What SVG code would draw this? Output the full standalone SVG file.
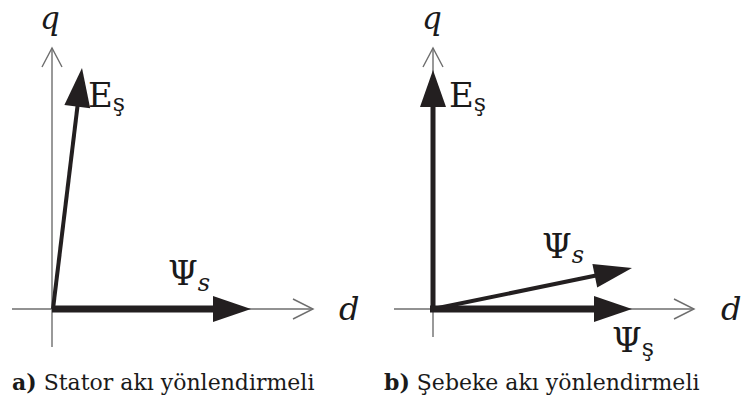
<svg xmlns="http://www.w3.org/2000/svg" width="744" height="403" viewBox="0 0 744 403">
<style>
.axis{stroke:#6e6e6e;stroke-width:1.4;fill:none}
.vec{stroke:#231f20;fill:none}
.head{fill:#231f20;stroke:none}
.t{font-family:'DejaVu Serif',serif;fill:#1a1a1a}
.it{font-style:italic}
.ax{font-size:32px}
.axq{font-size:31px}
.lbl{font-size:34px}
.sub{font-size:24px}
.cap{font-size:22px}
</style>
<rect width="744" height="403" fill="#ffffff"/>
<g id="connectors">
  <line class="axis" x1="52" y1="347" x2="52" y2="48"/>
  <polyline class="axis" points="42,67 52,48 62,67"/>
  <line class="axis" x1="12" y1="309" x2="313" y2="309"/>
  <polyline class="axis" points="293,299 313,309 293,319"/>
  <line class="vec" stroke-width="7" x1="52" y1="309" x2="215" y2="309"/>
  <polygon class="head" points="213,296 251,309 213,322"/>
  <line class="vec" stroke-width="4" x1="53" y1="309" x2="78" y2="102"/>
  <polygon class="head" points="64.4,105.1 82,68 90.2,108.3"/>
  <line class="axis" x1="433" y1="337" x2="433" y2="48"/>
  <polyline class="axis" points="423,67 433,48 443,67"/>
  <line class="axis" x1="394" y1="309" x2="694" y2="309"/>
  <polyline class="axis" points="674,299 694,309 674,319"/>
  <line class="vec" stroke-width="5" x1="433" y1="311" x2="433" y2="104"/>
  <polygon class="head" points="420,107 433,70 446,107"/>
  <line class="vec" stroke-width="7" x1="430" y1="309" x2="596" y2="309"/>
  <polygon class="head" points="594,296 632,309 594,322"/>
  <line class="vec" stroke-width="4" x1="433" y1="309" x2="596" y2="275.5"/>
  <polygon class="head" points="592.4,264 632,268 597.2,287.4"/>
</g>
<g id="left-q"><text class="t it axq" x="40" y="29">q</text></g>
<g id="left-d"><text class="t it ax" x="339" y="320">d</text></g>
<g id="left-E"><text class="t lbl" x="88" y="107">E<tspan class="sub" dy="4">ş</tspan></text></g>
<g id="left-Psi"><text class="t lbl" x="168" y="285">Ψ<tspan class="sub it" dy="6">s</tspan></text></g>
<g id="caption-a"><text class="t cap" x="12" y="390"><tspan font-weight="bold">a)</tspan> Stator akı yönlendirmeli</text></g>
<g id="right-q"><text class="t it axq" x="422" y="29">q</text></g>
<g id="right-d"><text class="t it ax" x="721" y="320">d</text></g>
<g id="right-E"><text class="t lbl" x="449" y="107">E<tspan class="sub" dy="4">ş</tspan></text></g>
<g id="right-Psi-s"><text class="t lbl" x="542" y="258">Ψ<tspan class="sub it" dy="5">s</tspan></text></g>
<g id="right-Psi-sh"><text class="t lbl" x="612" y="352">Ψ<tspan class="sub" dy="4">ş</tspan></text></g>
<g id="caption-b"><text class="t cap" x="384" y="390"><tspan font-weight="bold">b)</tspan> Şebeke akı yönlendirmeli</text></g>
</svg>
